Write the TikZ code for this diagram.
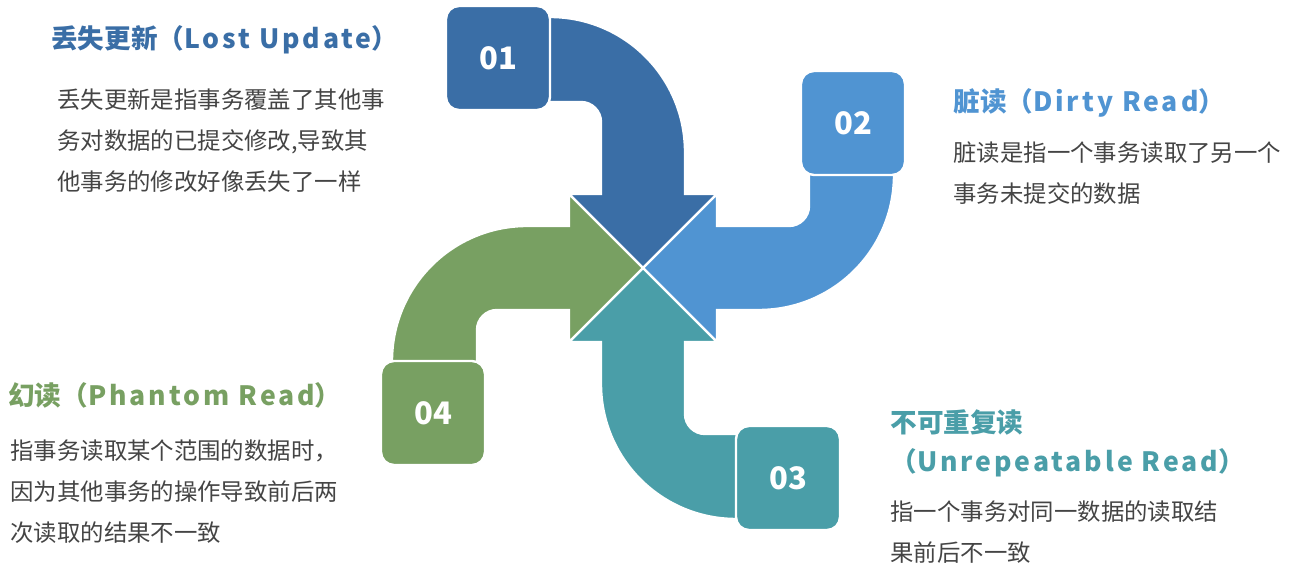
\documentclass[tikz,border=0pt]{standalone}
\usepackage{fontspec}
\setmainfont{Noto Sans CJK SC}
\newfontfamily\latinspaced{Noto Sans CJK SC}[LetterSpace=11]
\usepackage{xcolor}
\usepackage{tikz}
\usetikzlibrary{
  calc
}
\definecolor{txblue}{RGB}{58, 110, 166}
\definecolor{txsky}{RGB}{80, 148, 210}
\definecolor{txteal}{RGB}{74, 158, 168}
\definecolor{txgreen}{RGB}{120, 160, 98}
\definecolor{txgray}{RGB}{68, 68, 68}

\begin{document}
\begin{tikzpicture}[x=0.5pt, y=0.5pt,
  numbox/.style={draw=white, line width=1.2pt, rounded corners=6.5pt,
    minimum size=52pt, inner sep=0pt, text=white,
    font=\fontsize{15.5}{15.5}\selectfont\bfseries},
  headline/.style={anchor=west, inner sep=0pt, align=left,
    font=\fontsize{13.3}{19.5}\selectfont\bfseries},
  bodytext/.style={anchor=west, inner sep=0pt, align=left, text=txgray,
    font=\fontsize{11.7}{20.5}\selectfont}]
\useasboundingbox (0,0) rectangle (1292,582);
\coordinate (C) at (643,314);

% four bent arrows, each one a quarter turn from the last
\foreach \ang/\col/\num in {0/txblue/01, -90/txsky/02, -180/txteal/03, 90/txgreen/04}{
  \begin{scope}[shift={(C)}, rotate=\ang]
    \filldraw[fill=\col, draw=white, line width=1.2pt]
      (-100,251) -- (-93,251) arc[start angle=90, end angle=0, radius=135]
      -- (42,74) -- (74,74) -- (0,0) -- (-74,74) -- (-42,74) -- (-42,146)
      arc[start angle=0, end angle=90, radius=20] -- (-100,166) -- cycle;
    \node[numbox, fill=\col] (n\num) at (-145,210) {\num};
  \end{scope}
}

% texts
\node[headline, text=txblue] (h1) at (51,542) {丢失更新（{\latinspaced Lost Update}）};
\node[bodytext] (b1) at (57,441) {丢失更新是指事务覆盖了其他事\\务对数据的已提交修改,导致其\\他事务的修改好像丢失了一样};
\node[headline, text=txsky] (h2) at (953,479) {脏读（{\latinspaced Dirty Read}）};
\node[bodytext] (b2) at (953,409) {脏读是指一个事务读取了另一个\\事务未提交的数据};
\node[headline, text=txteal] (h3) at (890,139) {不可重复读\\（{\latinspaced Unrepeatable Read}）};
\node[bodytext] (b3) at (890,50) {指一个事务对同一数据的读取结\\果前后不一致};
\node[headline, text=txgreen] (h4) at (8,187) {幻读（{\latinspaced Phantom Read}）};
\node[bodytext] (b4) at (10,90) {指事务读取某个范围的数据时，\\因为其他事务的操作导致前后两\\次读取的结果不一致};
\end{tikzpicture}
\end{document}
